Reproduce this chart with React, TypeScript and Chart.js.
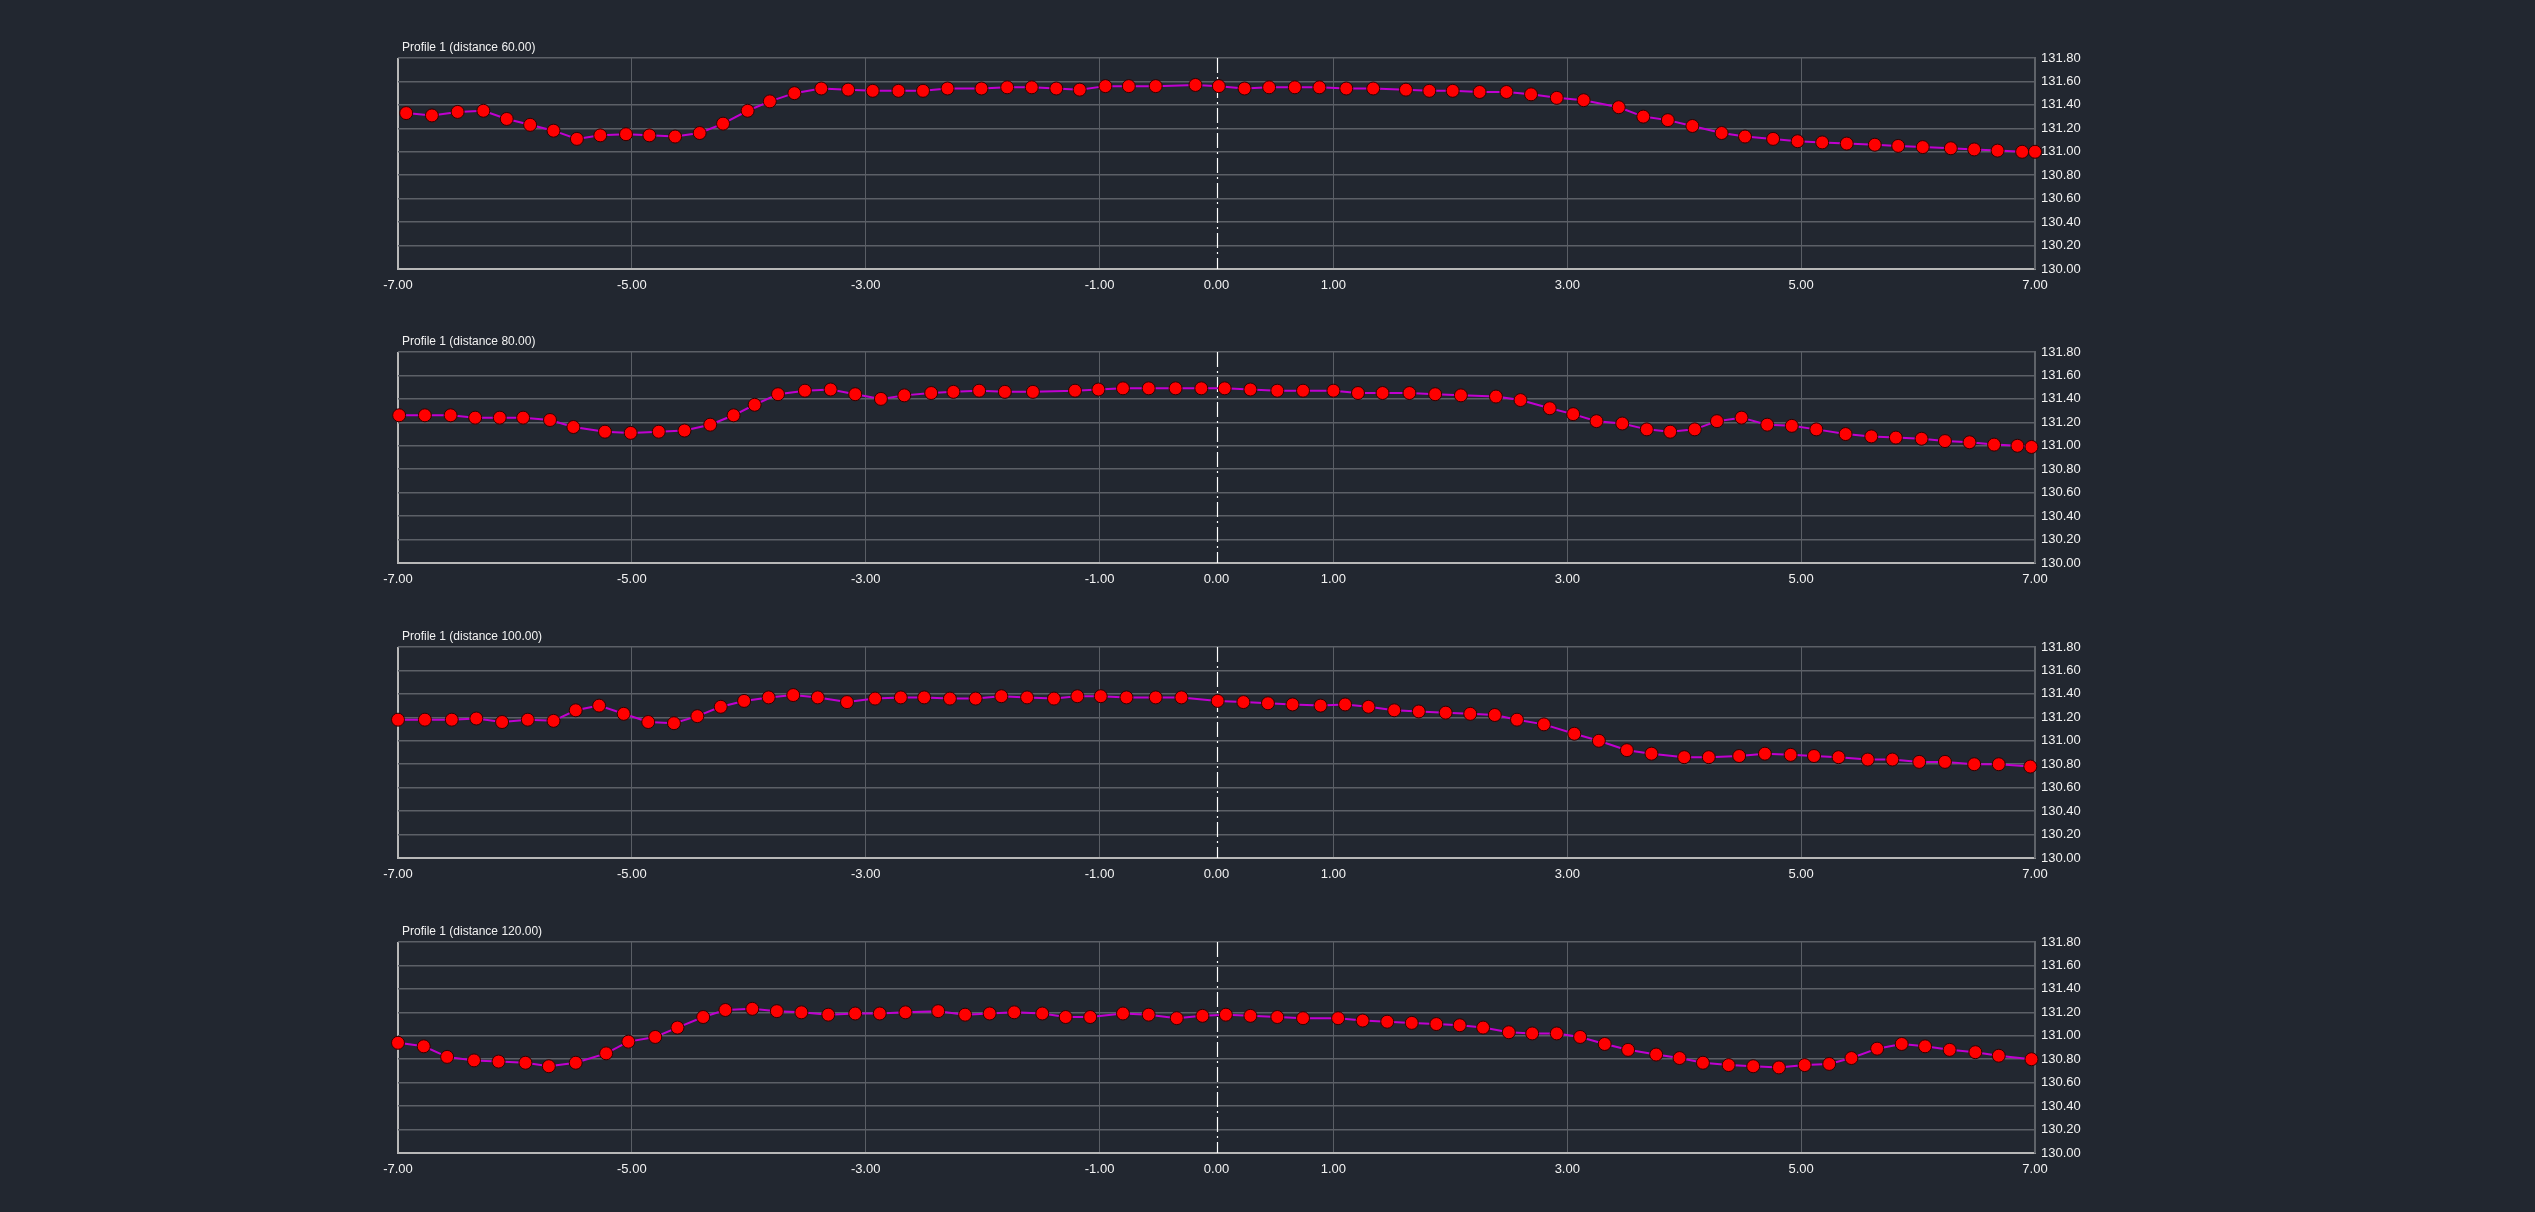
import React, { useEffect, useRef } from "react";
import { Chart, registerables } from "chart.js";

Chart.register(...registerables);

const X_TICKS = [-7, -5, -3, -1, 0, 1, 3, 5, 7];
const Y_TICKS = [130.0, 130.2, 130.4, 130.6, 130.8, 131.0, 131.2, 131.4, 131.6, 131.8];
const DISTANCES = [60, 80, 100, 120];

const P1_X = [-6.93, -6.71, -6.49, -6.27, -6.07, -5.87, -5.67, -5.47, -5.27, -5.05, -4.85, -4.63, -4.42, -4.22, -4.01, -3.82, -3.61, -3.38, -3.15, -2.94, -2.72, -2.51, -2.30, -2.01, -1.79, -1.58, -1.37, -1.17, -0.95, -0.75, -0.52, -0.18, 0.02, 0.24, 0.45, 0.67, 0.88, 1.11, 1.34, 1.62, 1.82, 2.02, 2.25, 2.48, 2.69, 2.91, 3.14, 3.44, 3.65, 3.86, 4.07, 4.32, 4.52, 4.76, 4.97, 5.18, 5.39, 5.63, 5.83, 6.04, 6.28, 6.48, 6.68, 6.89, 7.00];
const P1_Y = [131.33, 131.31, 131.34, 131.35, 131.28, 131.23, 131.18, 131.11, 131.14, 131.15, 131.14, 131.13, 131.16, 131.24, 131.35, 131.43, 131.50, 131.54, 131.53, 131.52, 131.52, 131.52, 131.54, 131.54, 131.55, 131.55, 131.54, 131.53, 131.56, 131.56, 131.56, 131.57, 131.56, 131.54, 131.55, 131.55, 131.55, 131.54, 131.54, 131.53, 131.52, 131.52, 131.51, 131.51, 131.49, 131.46, 131.44, 131.38, 131.30, 131.27, 131.22, 131.16, 131.13, 131.11, 131.09, 131.08, 131.07, 131.06, 131.05, 131.04, 131.03, 131.02, 131.01, 131.00, 131.00];

const P2_X = [-6.99, -6.77, -6.55, -6.34, -6.13, -5.93, -5.70, -5.50, -5.23, -5.01, -4.77, -4.55, -4.33, -4.13, -3.95, -3.75, -3.52, -3.30, -3.09, -2.87, -2.67, -2.44, -2.25, -2.03, -1.81, -1.57, -1.21, -1.01, -0.80, -0.58, -0.35, -0.13, 0.07, 0.29, 0.52, 0.74, 1.00, 1.21, 1.42, 1.65, 1.87, 2.09, 2.39, 2.60, 2.85, 3.05, 3.25, 3.47, 3.68, 3.88, 4.09, 4.28, 4.49, 4.71, 4.92, 5.13, 5.38, 5.60, 5.81, 6.03, 6.23, 6.44, 6.65, 6.85, 6.97];
const P2_Y = [131.26, 131.26, 131.26, 131.24, 131.24, 131.24, 131.22, 131.16, 131.12, 131.11, 131.12, 131.13, 131.18, 131.26, 131.35, 131.44, 131.47, 131.48, 131.44, 131.40, 131.43, 131.45, 131.46, 131.47, 131.46, 131.46, 131.47, 131.48, 131.49, 131.49, 131.49, 131.49, 131.49, 131.48, 131.47, 131.47, 131.47, 131.45, 131.45, 131.45, 131.44, 131.43, 131.42, 131.39, 131.32, 131.27, 131.21, 131.19, 131.14, 131.12, 131.14, 131.21, 131.24, 131.18, 131.17, 131.14, 131.10, 131.08, 131.07, 131.06, 131.04, 131.03, 131.01, 131.00, 130.99];

const P3_X = [-7.00, -6.77, -6.54, -6.33, -6.11, -5.89, -5.67, -5.48, -5.28, -5.07, -4.86, -4.64, -4.44, -4.24, -4.04, -3.83, -3.62, -3.41, -3.16, -2.92, -2.70, -2.50, -2.28, -2.06, -1.84, -1.62, -1.39, -1.19, -0.99, -0.77, -0.52, -0.30, 0.01, 0.23, 0.44, 0.65, 0.89, 1.10, 1.30, 1.52, 1.73, 1.96, 2.17, 2.38, 2.57, 2.80, 3.06, 3.27, 3.51, 3.72, 4.00, 4.21, 4.47, 4.69, 4.91, 5.11, 5.32, 5.57, 5.78, 6.01, 6.23, 6.48, 6.69, 6.96];
const P3_Y = [131.18, 131.18, 131.18, 131.19, 131.16, 131.18, 131.17, 131.26, 131.30, 131.23, 131.16, 131.15, 131.21, 131.29, 131.34, 131.37, 131.39, 131.37, 131.33, 131.36, 131.37, 131.37, 131.36, 131.36, 131.38, 131.37, 131.36, 131.38, 131.38, 131.37, 131.37, 131.37, 131.34, 131.33, 131.32, 131.31, 131.30, 131.31, 131.29, 131.26, 131.25, 131.24, 131.23, 131.22, 131.18, 131.14, 131.06, 131.00, 130.92, 130.89, 130.86, 130.86, 130.87, 130.89, 130.88, 130.87, 130.86, 130.84, 130.84, 130.82, 130.82, 130.80, 130.80, 130.78];

const P4_X = [-7.00, -6.78, -6.58, -6.35, -6.14, -5.91, -5.71, -5.48, -5.22, -5.03, -4.80, -4.61, -4.39, -4.20, -3.97, -3.76, -3.55, -3.32, -3.09, -2.88, -2.66, -2.38, -2.15, -1.94, -1.73, -1.49, -1.29, -1.08, -0.80, -0.58, -0.34, -0.12, 0.08, 0.29, 0.52, 0.74, 1.04, 1.25, 1.46, 1.67, 1.88, 2.08, 2.28, 2.50, 2.70, 2.91, 3.11, 3.32, 3.52, 3.76, 3.96, 4.16, 4.38, 4.59, 4.81, 5.03, 5.24, 5.43, 5.65, 5.86, 6.06, 6.27, 6.49, 6.69, 6.97];
const P4_Y = [130.94, 130.91, 130.82, 130.79, 130.78, 130.77, 130.74, 130.77, 130.85, 130.95, 130.99, 131.07, 131.16, 131.22, 131.23, 131.21, 131.20, 131.18, 131.19, 131.19, 131.20, 131.21, 131.18, 131.19, 131.20, 131.19, 131.16, 131.16, 131.19, 131.18, 131.15, 131.17, 131.18, 131.17, 131.16, 131.15, 131.15, 131.13, 131.12, 131.11, 131.10, 131.09, 131.07, 131.03, 131.02, 131.02, 130.99, 130.93, 130.88, 130.84, 130.81, 130.77, 130.75, 130.74, 130.73, 130.75, 130.76, 130.81, 130.89, 130.93, 130.91, 130.88, 130.86, 130.83, 130.80];

const SERIES_X = [P1_X, P2_X, P3_X, P4_X];
const SERIES_Y = [P1_Y, P2_Y, P3_Y, P4_Y];

const BG = "#222730";
const TEXT = "#f2f2f2";
const PLOT_TOPS = [58, 352, 647, 942];
const CANVAS_LEFT = 340;
const CANVAS_W = 1780;
const CANVAS_H = 290;
const PAD_TOP = 40;

function Panel({ xs, ys, distance, top }: { xs: number[]; ys: number[]; distance: number; top: number }) {
  const ref = useRef<HTMLCanvasElement | null>(null);
  useEffect(() => {
    const canvas = ref.current;
    if (!canvas) return;
    const title = `Profile 1 (distance ${distance.toFixed(2)})`;
    const decor = {
      id: "decor",
      beforeDatasetsDraw(chart: any) {
        const { ctx, chartArea, scales } = chart;
        const x0 = Math.round(scales.x.getPixelForValue(0)) + 0.5;
        ctx.save();
        ctx.strokeStyle = "#ffffff";
        ctx.lineWidth = 1.2;
        ctx.setLineDash([15, 4, 2, 4]);
        ctx.beginPath();
        ctx.moveTo(x0, chartArea.top);
        ctx.lineTo(x0, chartArea.bottom);
        ctx.stroke();
        ctx.restore();
      },
      afterDraw(chart: any) {
        const { ctx, chartArea } = chart;
        ctx.save();
        ctx.fillStyle = TEXT;
        ctx.font = "12px 'Liberation Sans', Arial, sans-serif";
        ctx.textAlign = "left";
        ctx.textBaseline = "middle";
        ctx.fillText(title, chartArea.left + 4, chartArea.top - 10);
        ctx.restore();
      },
    };
    const chart = new Chart(canvas, {
      type: "scatter",
      data: {
        datasets: [
          {
            data: xs.map((x, i) => ({ x, y: ys[i] })),
            showLine: true,
            borderColor: "#c000d0",
            borderWidth: 2,
            pointRadius: 6.5,
            pointBackgroundColor: "#ff0000",
            pointBorderColor: "#300000",
            pointBorderWidth: 1,
            clip: false as any,
          },
        ],
      },
      options: {
        responsive: false,
        animation: false,
        devicePixelRatio: 1,
        layout: { padding: { left: 58, top: PAD_TOP, right: 15, bottom: 9 } },
        plugins: { legend: { display: false }, tooltip: { enabled: false }, title: { display: false } },
        scales: {
          x: {
            type: "linear",
            min: -7,
            max: 7,
            afterBuildTicks: (s: any) => {
              s.ticks = X_TICKS.map((v) => ({ value: v }));
            },
            afterFit: (s: any) => {
              s.height = 30;
            },
            grid: {
              drawTicks: false,
              color: (c: any) => {
                const v = c.tick ? c.tick.value : null;
                if (v === -7) return "#b8b8b8";
                if (v === 0) return "rgba(0,0,0,0)";
                if (v === 7) return "#5f6369";
                return "#5a5e65";
              },
              lineWidth: (c: any) => {
                const v = c.tick ? c.tick.value : null;
                if (v === -7 || v === 7) return 2;
                return 1;
              },
            },
            border: { display: true, color: "#b8b8b8", width: 2 },
            ticks: {
              color: TEXT,
              font: { family: "'Liberation Sans', Arial, sans-serif", size: 13 },
              padding: 9,
              autoSkip: false,
              maxRotation: 0,
              callback: (v: any) => Number(v).toFixed(2),
            },
          },
          y: {
            type: "linear",
            position: "right",
            min: 130,
            max: 131.8,
            afterBuildTicks: (s: any) => {
              s.ticks = Y_TICKS.map((v) => ({ value: v }));
            },
            afterFit: (s: any) => {
              s.width = 70;
            },
            grid: { drawTicks: false, color: "#5c6067", lineWidth: 1.5 },
            border: { display: true, color: "#5f6369", width: 2 },
            ticks: {
              color: TEXT,
              font: { family: "'Liberation Sans', Arial, sans-serif", size: 13 },
              padding: 6,
              autoSkip: false,
              callback: (v: any) => Number(v).toFixed(2),
            },
          },
        },
      },
      plugins: [decor],
    } as any);
    return () => chart.destroy();
  }, [xs, ys, distance]);
  return (
    <canvas
      ref={ref}
      width={CANVAS_W}
      height={CANVAS_H}
      style={{ position: "absolute", left: CANVAS_LEFT, top: top - PAD_TOP, width: CANVAS_W, height: CANVAS_H }}
    />
  );
}

export default function App() {
  return (
    <div style={{ position: "fixed", left: 0, top: 0, width: 2535, height: 1212, background: BG, overflow: "hidden" }}>
      {DISTANCES.map((d, i) => (
        <Panel key={d} xs={SERIES_X[i]} ys={SERIES_Y[i]} distance={d} top={PLOT_TOPS[i]} />
      ))}
    </div>
  );
}
